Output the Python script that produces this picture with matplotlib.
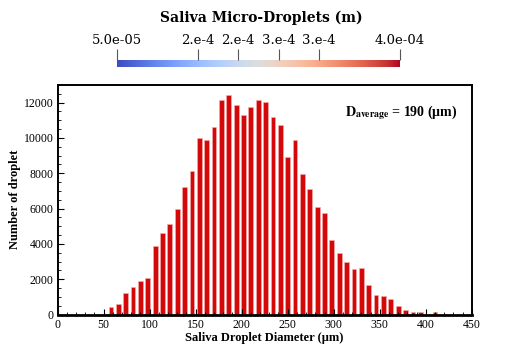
import numpy as np
import matplotlib
matplotlib.use('Agg')
import matplotlib.pyplot as plt
from matplotlib.colors import Normalize
from matplotlib.colorbar import ColorbarBase
from matplotlib.ticker import MultipleLocator

# droplet diameter bins (µm) and counts
diameters = [58, 66, 74, 82, 90, 98, 106, 114, 122, 130, 138, 146, 154, 162, 170,
             178, 186, 194, 202, 210, 218, 226, 234, 242, 250, 258, 266, 274, 282, 290,
             298, 306, 314, 322, 330, 338, 346, 354, 362, 370, 378, 386, 394, 402, 410]
counts = [410, 580, 1235, 1540, 1880, 2070, 3880, 4600, 5145, 5980, 7200, 8150, 10000, 9900, 10620,
          12150, 12450, 11870, 11300, 11740, 12150, 12040, 11170, 10750, 8900, 9900, 7945, 7110, 6070, 5770,
          4200, 3500, 2960, 2560, 2620, 1670, 1100, 1050, 860, 480, 255, 160, 160, 0, 125]

# colour legend (droplet size in m)
cbar_min, cbar_max = 5e-5, 4e-4
cbar_ticks = [5e-5, 1.5e-4, 2e-4, 2.5e-4, 3e-4, 4e-4]
cbar_labels = ['5.0e-05', '2.e-4', '2.e-4', '3.e-4', '3.e-4', '4.0e-04']

serif = ['Liberation Serif', 'DejaVu Serif']
plt.rcParams['font.family'] = serif
plt.rcParams['mathtext.fontset'] = 'stix'

fig = plt.figure(figsize=(5.09, 3.5), dpi=100)
ax = fig.add_axes([0.113, 0.1014, 0.814, 0.6557])

ax.bar(diameters, counts, width=5.2, color='#d40808', edgecolor='#f2b0b0', linewidth=0.4)

ax.set_xlim(0, 450)
ax.set_ylim(0, 13000)
ax.xaxis.set_major_locator(MultipleLocator(50))
ax.xaxis.set_minor_locator(MultipleLocator(10))
ax.yaxis.set_major_locator(MultipleLocator(2000))
ax.yaxis.set_minor_locator(MultipleLocator(500))
ax.tick_params(which='both', direction='in', top=False, right=False, labelsize=8.5, pad=3)
ax.tick_params(which='major', length=4, width=0.8)
ax.tick_params(which='minor', length=2, width=0.6)
for sp in ax.spines.values():
    sp.set_linewidth(1.4)
ax.spines['bottom'].set_linewidth(2.0)

ax.set_xlabel('Saliva Droplet Diameter (μm)', fontsize=9, fontweight='bold', labelpad=1)
ax.set_ylabel('Number of droplet', fontsize=9, fontweight='bold', labelpad=2)

ax.text(0.965, 0.88, r'$\mathbf{D}_{\mathbf{average}}$' + ' = 190 (μm)', transform=ax.transAxes,
        ha='right', va='center', fontsize=10, fontweight='bold')

# colour bar at the top
cax = fig.add_axes([0.2299, 0.8086, 0.556, 0.02])
cb = ColorbarBase(cax, cmap=plt.cm.coolwarm, norm=Normalize(cbar_min, cbar_max),
                  orientation='horizontal', ticks=cbar_ticks)
cb.outline.set_visible(False)
cax.xaxis.set_ticks_position('top')
cax.set_xticklabels(cbar_labels, fontsize=9.5, family='DejaVu Serif')
cax.tick_params(axis='x', direction='out', length=8, width=0.8, color='#555555', pad=1)
fig.text(0.513, 0.948, 'Saliva Micro-Droplets (m)', ha='center', va='center',
         fontsize=10, fontweight='bold', family='DejaVu Serif')

fig.savefig('out.png', dpi=100)
